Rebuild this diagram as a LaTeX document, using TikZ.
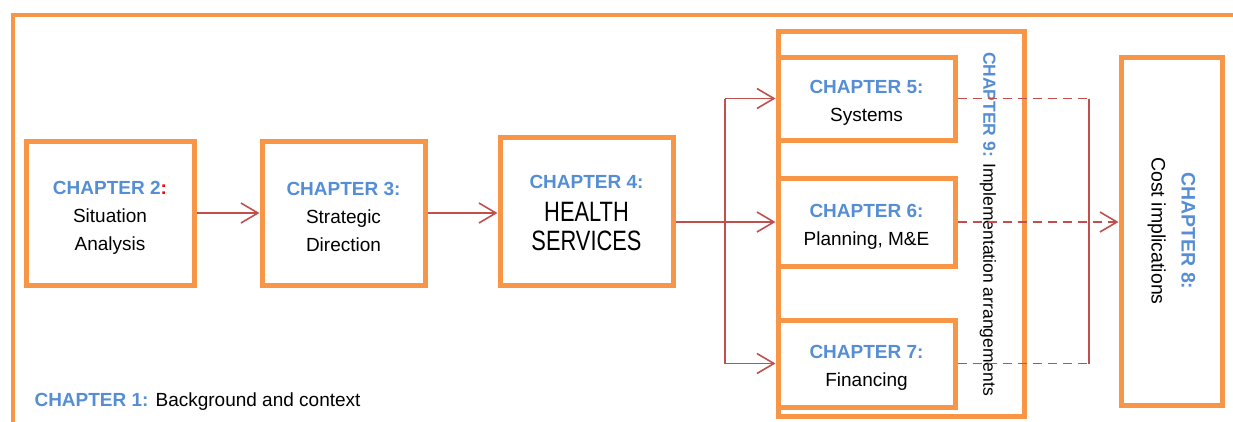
\documentclass[tikz,border=0pt]{standalone}
\usepackage{fontspec}
\setmainfont{Liberation Sans}
\newfontfamily\narrowsans[FakeStretch=0.78]{Liberation Sans}
\usetikzlibrary{positioning}
\usetikzlibrary{calc}
\usetikzlibrary{arrows.meta}
\definecolor{boxorange}{HTML}{F79646}
\definecolor{chapblue}{HTML}{558ED5}
\definecolor{flowred}{HTML}{C0504D}
\newcommand{\chap}[1]{\textcolor{chapblue}{\textbf{CHAPTER #1:}}}
\newcommand{\toppad}[1]{\rule{0pt}{#1}}
\tikzset{
	every node/.style={align=center,font=\fontsize{19}{28}\selectfont},
	chapbox/.style={draw=boxorange,line width=5pt,inner sep=0pt},
	flowline/.style={draw=flowred,line width=1.6pt},
	flow/.style={flowline,-{Straight Barb[length=17pt,width=20pt]}},
	costdash/.style={flowline,dash pattern=on 9pt off 6pt},
}

\begin{document}
\begin{tikzpicture}[x=1pt,y=-1pt]
	\useasboundingbox (0,0) rectangle (1233,421);
	
	%frame of chapter 1.....................
	\draw [boxorange,line width=4pt] (13,430) -- (13,15) -- (1245,15);
	\node [anchor=west] (ch1) at (31,402) {\chap{1} Background and context};
	
	%main line of chapters......................
	\node [chapbox,minimum width=168,minimum height=144] (box2) at (110,213)
		{\toppad{22pt}\textcolor{chapblue}{\textbf{CHAPTER 2}}\textcolor{red}{\textbf{:}}\\Situation\\Analysis};
	\node [chapbox,minimum width=163,minimum height=144] (box3) at (343.5,213)
		{\toppad{22pt}\chap{3}\\Strategic\\Direction};
	\node [chapbox,minimum width=173,minimum height=148,font=\fontsize{19}{29.5}\selectfont] (box4) at (586.5,211)
		{\toppad{18pt}\chap{4}\\[3pt]{\narrowsans\fontsize{28}{29.5}\selectfont HEALTH}\\{\narrowsans\fontsize{28}{29.5}\selectfont SERVICES}};
	
	% chapter 9 round chapters 5-7...................
	\node [chapbox,minimum width=246,minimum height=385] (box9) at (901,223.5) {};
	\node [rotate=-90,font=\fontsize{17.5}{20}\selectfont] (ch9) at (988,224)
		{\chap{9} Implementation arrangements};
	\node [chapbox,minimum width=177,minimum height=83] (box5) at (866.5,98.5) {\toppad{22pt}\chap{5}\\Systems};
	\node [chapbox,minimum width=177,minimum height=88] (box6) at (866.5,222) {\toppad{22pt}\chap{6}\\Planning, M\&E};
	\node [chapbox,minimum width=177,minimum height=87] (box7) at (866.5,363.5) {\toppad{22pt}\chap{7}\\Financing};
	
	% chapter 8 (turned, so its south side is on the left)...................
	\node [chapbox,rotate=-90,minimum width=348,minimum height=101,font=\fontsize{19.5}{30}\selectfont] (box8) at (1171.5,231)
		{\chap{8}\\Cost implications};
	
	% arrows....................
	\draw [flow] (box2.east) -- (box3.west);
	\draw [flow] (box3.east) -- (box4.west |- box3);
	\coordinate (bus) at (725,222);
	\draw [flow] (box4.east |- box6) -- (box6.west);
	\draw [flowline] (bus |- box5.west) -- (bus |- box7.west);
	\draw [flow] (bus |- box5.west) -- (box5.west);
	\draw [flow] (bus |- box7.west) -- (box7.west);
	
	% dashed lines to chapter 8....................
	\coordinate (join) at (1089,222);
	\draw [costdash] (box5.east) -- (join |- box5.east);
	\draw [costdash] (box7.east) -- (join |- box7.east);
	\draw [flowline] (join |- box5.east) -- (join |- box7.east);
	\draw [costdash,-{Straight Barb[length=17pt,width=20pt]}] (box6.east) -- (box8.south |- box6);
	
\end{tikzpicture}
\end{document}
